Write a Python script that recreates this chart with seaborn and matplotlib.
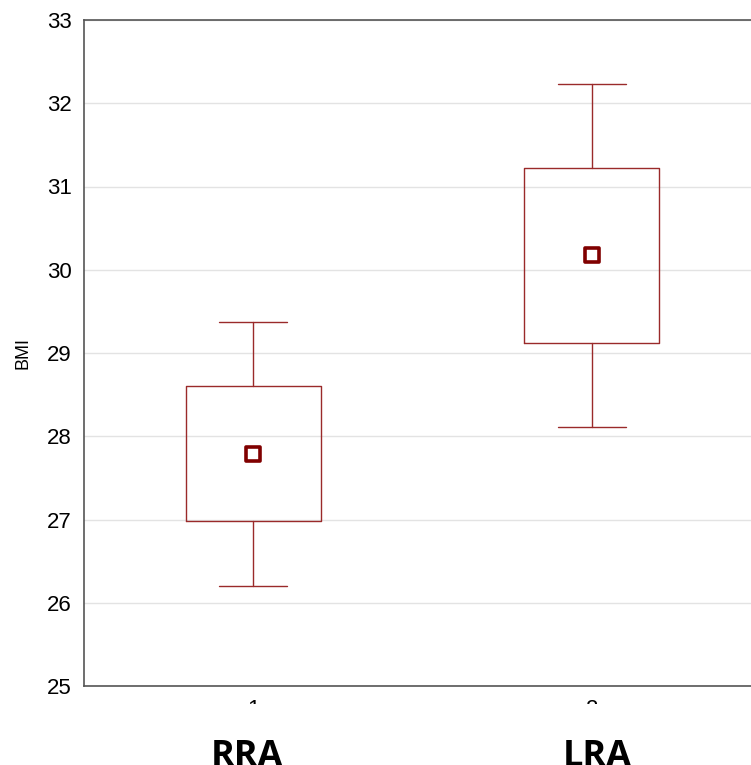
import numpy as np
import pandas as pd
import matplotlib
matplotlib.use("Agg")
import matplotlib.pyplot as plt
import seaborn as sns
from matplotlib.patches import Rectangle

groups = ["RRA", "LRA"]
tick_labels = ["1", "2"]
means = [27.79, 30.18]
box_low = [26.98, 29.12]
box_high = [28.60, 31.22]
whisk_low = [26.20, 28.11]
whisk_high = [29.37, 32.23]

sns.set_style("white")
plt.rcParams["font.family"] = ["Liberation Sans", "DejaVu Sans"]

edge = "#9a2a2a"
df = pd.DataFrame({"grp": tick_labels, "mean": means})

fig = plt.figure(figsize=(7.51, 7.65), dpi=100)
ax = fig.add_axes([84 / 751, 79 / 765, 677 / 751, 666 / 765])

# box = mean +/- SE, whiskers = mean +/- 1.96 SE (precomputed)
stats = []
for i in range(len(groups)):
    stats.append({"med": means[i], "q1": box_low[i], "q3": box_high[i],
                  "whislo": whisk_low[i], "whishi": whisk_high[i], "fliers": []})
ax.bxp(stats, positions=[0, 1], widths=0.4, capwidths=0.2, showfliers=False,
       boxprops=dict(color=edge, linewidth=1.0),
       whiskerprops=dict(color=edge, linewidth=1.0),
       capprops=dict(color=edge, linewidth=1.0),
       medianprops=dict(linewidth=0))

sns.scatterplot(data=df, x="grp", y="mean", ax=ax, marker="s", s=110,
                facecolor="white", edgecolor="#800000", linewidth=2.6, zorder=5)

ax.set_xlim(-0.5, 1.5)
ax.set_ylim(25, 33)
ax.set_yticks(range(25, 34))
ax.set_xticks([0, 1])
ax.set_xticklabels(tick_labels)
ax.set_xlabel("")
ax.set_ylabel("BMI", fontsize=13, color="black")
ax.yaxis.set_label_coords(-0.077, 0.5)
ax.yaxis.grid(True, color="#e3e3e3", linewidth=1.0)
ax.set_axisbelow(True)
ax.tick_params(axis="both", direction="in", length=4, width=0.8, colors="#333333",
               labelcolor="black", labelsize=16)
ax.tick_params(axis="y", pad=9)
ax.tick_params(axis="x", pad=9.5)
for s in ["left", "bottom", "top", "right"]:
    ax.spines[s].set_color("#555555")
    ax.spines[s].set_linewidth(1.2)

# white strip hiding most of the x tick numbers, as in the original export
fig.add_artist(Rectangle((0, 0), 1, 61 / 765, transform=fig.transFigure,
                         facecolor="white", edgecolor="none", zorder=1))
for i, g in enumerate(groups):
    x = ax.transData.transform((i, 0))[0]
    fig.text((x - 6 + 11 * i) / 751, -1 / 765, g, ha="center", va="baseline",
             fontsize=26, fontweight="bold", family="Open Sans", color="black",
             zorder=3)

fig.savefig("out.png", dpi=100)
